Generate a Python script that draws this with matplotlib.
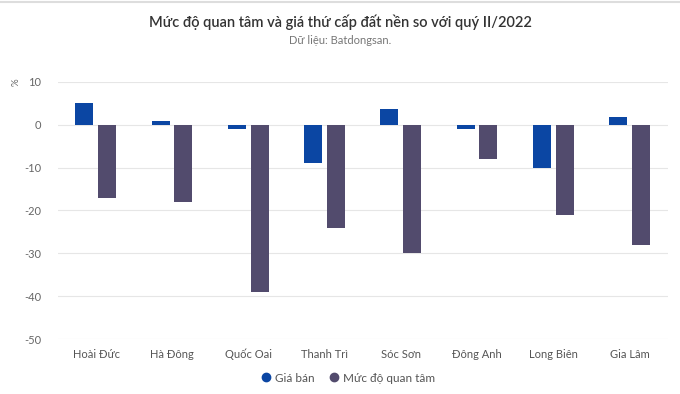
import numpy as np
import matplotlib.pyplot as plt
from matplotlib.lines import Line2D

plt.rcParams['font.family'] = ['Lato', 'DejaVu Sans']

districts = ['Hoài Đức', 'Hà Đông', 'Quốc Oai', 'Thanh Trì', 'Sóc Sơn', 'Đông Anh', 'Long Biên', 'Gia Lâm']
gia_ban = [5, 0.8, -1, -9, 3.8, -1, -10, 1.8]
quan_tam = [-17, -18, -39, -24, -30, -8, -21, -28]
yticks = [10, 0, -10, -20, -30, -40, -50]

c_blue = '#0b46a3'
c_purple = '#524b6d'

fig = plt.figure(figsize=(6.8, 3.94), dpi=100)
ax = fig.add_axes([58/680, 1-339/394, 610/680, 257/394])

x = np.arange(len(districts))
w = 0.236
ax.bar(x - 0.155, gia_ban, w, color=c_blue, zorder=3)
ax.bar(x + 0.145, quan_tam, w, color=c_purple, zorder=3)

ax.set_xlim(-0.5, len(districts) - 0.5)
ax.set_ylim(-50, 10)
ax.set_yticks(yticks)
ax.set_yticklabels([str(v) for v in yticks], color='#666666', fontsize=8)
ax.set_xticks(x)
ax.set_xticklabels(districts, color='#555555', fontsize=8)
ax.tick_params(axis='both', length=0)
ax.tick_params(axis='y', pad=12)
ax.tick_params(axis='x', pad=7)
ax.grid(axis='y', color='#e6e6e6', linewidth=0.8, zorder=0)
for s in ax.spines.values():
    s.set_visible(False)

fig.text(16/680, 1-82/394, '%', rotation=90, ha='center', va='center', fontsize=7, color='#666666')

fig.text(0.5, 1-22/394, 'Mức độ quan tâm và giá thứ cấp đất nền so với quý II/2022',
         ha='center', va='center', fontsize=10.5, color='#333333', fontweight='semibold')
fig.text(0.5, 1-41/394, 'Dữ liệu: Batdongsan.', ha='center', va='center', fontsize=8, color='#777777')

fig.add_artist(Line2D([0, 1], [1-2/394, 1-2/394], color='#dddddd', linewidth=1.5))

handles = [Line2D([], [], marker='o', linestyle='', color=c_blue, markersize=6),
           Line2D([], [], marker='o', linestyle='', color=c_purple, markersize=6)]
fig.legend(handles, ['Giá bán', 'Mức độ quan tâm'], loc='center', bbox_to_anchor=(346/680, 1-378/394),
           ncol=2, frameon=False, fontsize=8.5, handletextpad=0.0, columnspacing=0.9,
           handlelength=1.5, labelcolor='#555555')

fig.savefig('out.png', dpi=100, facecolor='white')
